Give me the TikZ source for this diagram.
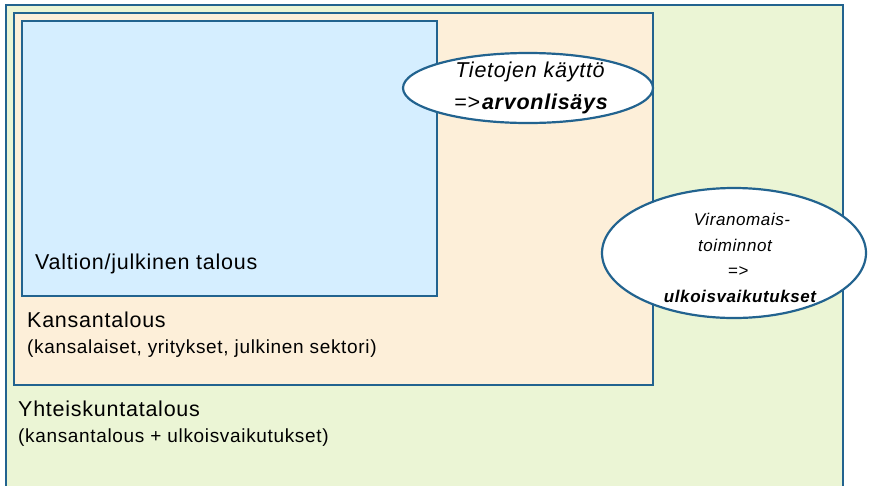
\documentclass[tikz,border=0pt]{standalone}
\usepackage{fontspec}
\setmainfont{Liberation Sans}[LetterSpace=3.5]
\usetikzlibrary{shapes.geometric}
\definecolor{edgeblue}{HTML}{22638F}
\definecolor{societyfill}{HTML}{EBF5D5}
\definecolor{nationfill}{HTML}{FDEFD9}
\definecolor{statefill}{HTML}{D5EEFF}
\tikzset{
  frame/.style={draw=edgeblue, line width=2.5pt},
  bubble/.style={draw=edgeblue, line width=2.2pt, fill=white},
  title/.style={anchor=base west, inner sep=0pt, font=\fontsize{21.5}{24}\selectfont},
  subtitle/.style={anchor=base west, inner sep=0pt, font=\fontsize{19}{21}\selectfont},
  bubbletext/.style={anchor=base, inner sep=0pt, font=\fontsize{#1}{#1}\selectfont\itshape},
  bubbletext/.default=21.5
}
\begin{document}
\begin{tikzpicture}[x=1pt,y=-1pt]
\useasboundingbox (0,0) rectangle (869,485);
% nested economy levels
\begin{scope}
  \clip (0,0) rectangle (869,485);
  \draw[frame, fill=societyfill] (6,5) rectangle (843,500);
\end{scope}
\draw[frame, fill=nationfill] (14,13) rectangle (653,385);
\draw[frame, fill=statefill] (22,21) rectangle (437,296);

% level labels
\node[title] (state) at (35,269) {Valtion/julkinen talous};
\node[title] (nation) at (27,327) {Kansantalous};
\node[subtitle] (nationsub) at (27,353) {(kansalaiset, yritykset, julkinen sektori)};
\node[title] (society) at (18,416) {Yhteiskuntatalous};
\node[subtitle] (societysub) at (18,442) {(kansantalous + ulkoisvaikutukset)};

% information use bubble
\draw[bubble] (528,88) ellipse [x radius=125, y radius=35];
\node[bubbletext] (use1) at (530,77) {Tietojen käyttö};
\node[bubbletext] (use2) at (531,109) {=>\hspace{2pt}\bfseries arvonlisäys};

% authority bubble
\draw[bubble] (734,253) ellipse [x radius=132, y radius=65];
\node[bubbletext=17] (auth1) at (742,225) {Viranomais-};
\node[bubbletext=17] (auth2) at (735,251) {toiminnot};
\node[bubbletext=17] (auth3) at (738,276) {=>};
\node[bubbletext=17] (auth4) at (740,302) {\bfseries ulkoisvaikutukset};
\end{tikzpicture}
\end{document}
